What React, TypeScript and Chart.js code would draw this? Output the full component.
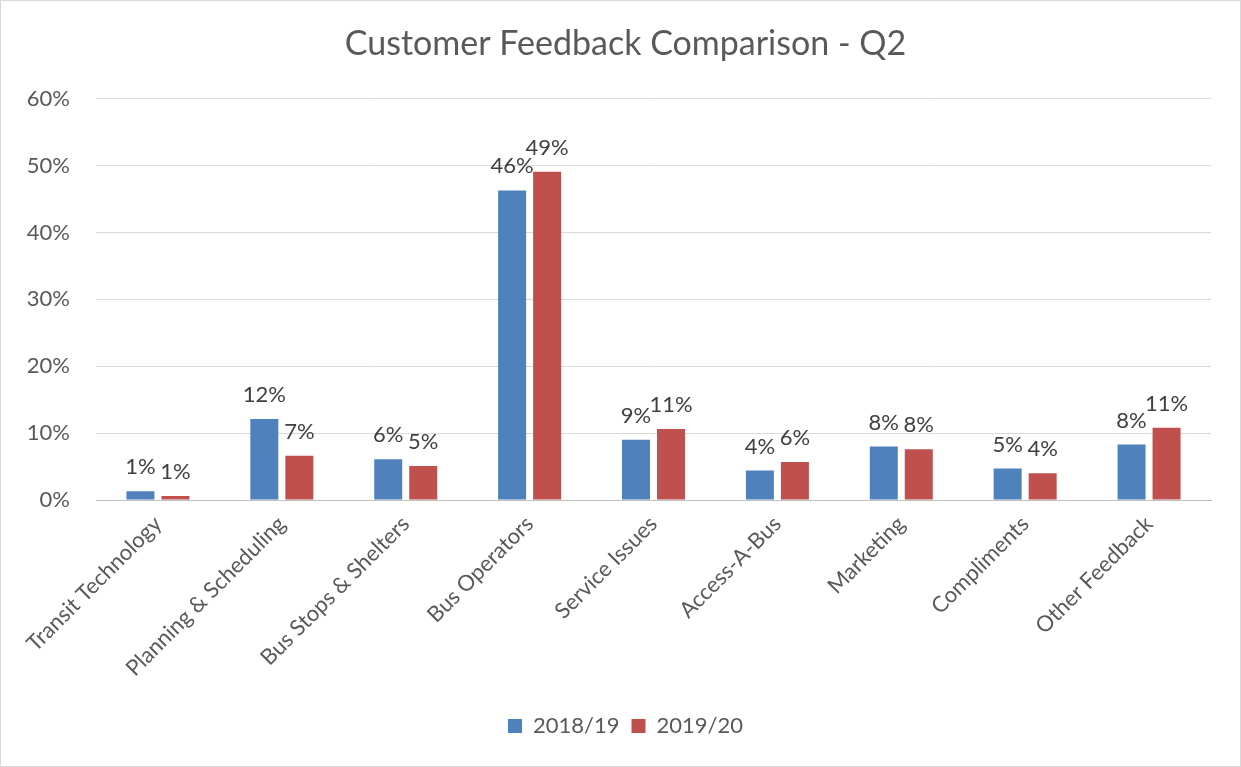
import React, { useEffect, useRef } from "react";
import { Chart, registerables } from "chart.js";

Chart.register(...registerables);

const categories = [
  "Transit Technology",
  "Planning & Scheduling",
  "Bus Stops & Shelters",
  "Bus Operators",
  "Service Issues",
  "Access-A-Bus",
  "Marketing",
  "Compliments",
  "Other Feedback",
];
const series2018 = [1.3, 12.1, 6.1, 46.3, 9.0, 4.4, 8.0, 4.7, 8.3];
const series2019 = [0.6, 6.6, 5.1, 49.1, 10.6, 5.7, 7.6, 4.0, 10.8];
const seriesNames = ["2018/19", "2019/20"];
const yTicks = [0, 10, 20, 30, 40, 50, 60];

const FONT = "Lato, 'Open Sans', sans-serif";

const labelPlugin = {
  id: "valueLabels",
  afterLayout(chart: any) {
    const shift = 20;
    if (chart.legend) {
      chart.legend.left += shift;
      chart.legend.right += shift;
    }
    if (chart.titleBlock) {
      chart.titleBlock.left += shift;
      chart.titleBlock.right += shift;
    }
  },
  afterDatasetsDraw(chart: any) {
    const ctx = chart.ctx;
    ctx.save();
    ctx.font = `22px ${FONT}`;
    ctx.fillStyle = "#404040";
    ctx.textAlign = "center";
    ctx.textBaseline = "alphabetic";
    chart.data.datasets.forEach((ds: any, i: number) => {
      const meta = chart.getDatasetMeta(i);
      meta.data.forEach((bar: any, j: number) => {
        const v = ds.data[j];
        ctx.fillText(Math.round(v) + "%", bar.x, bar.y - 17);
      });
    });
    ctx.restore();
  },
  afterDraw(chart: any) {
    const ctx = chart.ctx;
    ctx.save();
    ctx.strokeStyle = "#d9d9d9";
    ctx.lineWidth = 1;
    ctx.strokeRect(0.5, 0.5, chart.width - 1, chart.height - 1);
    ctx.restore();
  },
};

export default function App() {
  const ref = useRef<HTMLCanvasElement | null>(null);
  useEffect(() => {
    document.body.style.margin = "0";
    const canvas = ref.current!;
    const chart = new Chart(canvas, {
      type: "bar",
      data: {
        labels: categories,
        datasets: [
          {
            label: seriesNames[0],
            data: series2018,
            backgroundColor: "#4f81bd",
            categoryPercentage: 0.565,
            barPercentage: 0.8,
          },
          {
            label: seriesNames[1],
            data: series2019,
            backgroundColor: "#c0504d",
            categoryPercentage: 0.565,
            barPercentage: 0.8,
          },
        ],
      },
      options: {
        animation: false,
        responsive: false,
        maintainAspectRatio: false,
        layout: { padding: { left: 0, right: 30, top: 0, bottom: 20 } },
        plugins: {
          title: {
            display: true,
            text: "Customer Feedback Comparison - Q2",
            color: "#595959",
            font: { family: FONT, size: 34, weight: "normal" },
            padding: { top: 24, bottom: 34 },
          },
          legend: {
            position: "bottom",
            labels: {
              color: "#595959",
              font: { family: FONT, size: 22 },
              boxWidth: 14,
              boxHeight: 14,
              padding: 12,
            },
          },
          tooltip: { enabled: false },
        },
        scales: {
          x: {
            grid: { display: false },
            border: { display: true, color: "#bfbfbf", width: 1 },
            ticks: {
              color: "#595959",
              font: { family: FONT, size: 22 },
              minRotation: 45,
              maxRotation: 45,
              autoSkip: false,
            },
            afterFit(scale: any) {
              scale.height = 203;
            },
          },
          y: {
            min: 0,
            max: 60,
            afterBuildTicks(scale: any) {
              scale.ticks = yTicks.map((v) => ({ value: v }));
            },
            grid: { color: "#d9d9d9", drawTicks: false },
            border: { display: false },
            ticks: {
              color: "#595959",
              font: { family: FONT, size: 22 },
              padding: 26,
              callback: (v: any) => v + "%",
            },
            afterFit(scale: any) {
              scale.width = 96;
            },
          },
        },
      },
      plugins: [labelPlugin],
    });
    return () => chart.destroy();
  }, []);
  return (
    <div style={{ position: "absolute", left: 0, top: 0, width: 1241, height: 767, background: "#fff" }}>
      <canvas ref={ref} width={1241} height={767} style={{ display: "block" }} />
    </div>
  );
}
